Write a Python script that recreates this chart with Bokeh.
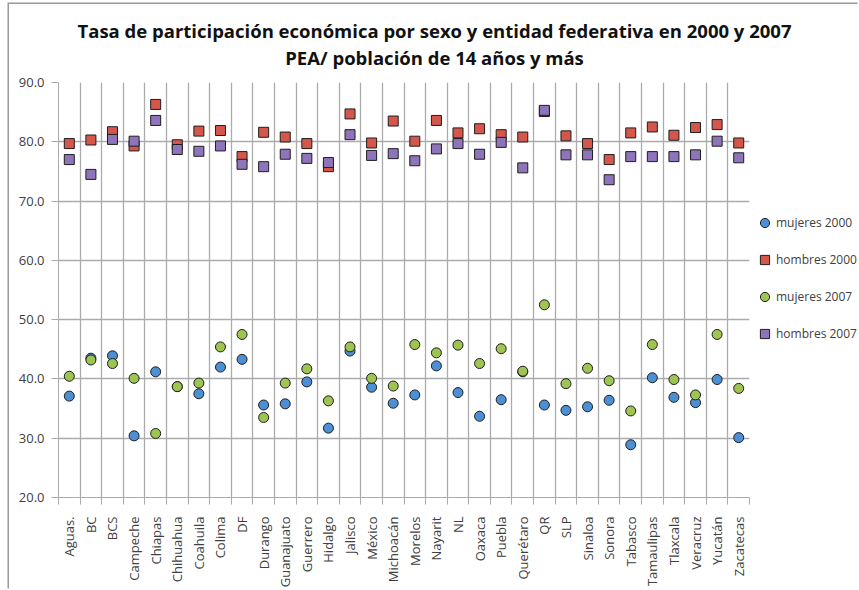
from bokeh.plotting import figure
from bokeh.layouts import row, column
from bokeh.models import (ColumnDataSource, FixedTicker, Legend, LegendItem, Label,
                          NumeralTickFormatter, Range1d)
from bokeh.embed import file_html
from bokeh.resources import INLINE

title_lines = ["Tasa de participación económica por sexo y entidad federativa en 2000 y 2007",
               "PEA/ población de 14 años y más"]

estados = ["Aguas.", "BC", "BCS", "Campeche", "Chiapas", "Chihuahua", "Coahuila", "Colima",
           "DF", "Durango", "Guanajuato", "Guerrero", "Hidalgo", "Jalisco", "México",
           "Michoacán", "Morelos", "Nayarit", "NL", "Oaxaca", "Puebla", "Querétaro", "QR",
           "SLP", "Sinaloa", "Sonora", "Tabasco", "Tamaulipas", "Tlaxcala", "Veracruz",
           "Yucatán", "Zacatecas"]

mujeres_2000 = [37.1, 43.5, 43.9, 30.4, 41.2, 38.7, 37.5, 42.0, 43.3, 35.6, 35.8, 39.5,
                31.7, 44.7, 38.6, 35.9, 37.3, 42.2, 37.7, 33.7, 36.5, 41.2, 35.6, 34.7,
                35.3, 36.4, 28.9, 40.2, 36.9, 36.0, 39.9, 30.1]
hombres_2000 = [79.7, 80.3, 81.7, 79.3, 86.3, 79.5, 81.8, 81.9, 77.5, 81.6, 80.8, 79.7,
                75.8, 84.7, 79.8, 83.5, 80.1, 83.6, 81.5, 82.2, 81.2, 80.8, 85.1, 81.0,
                79.7, 77.0, 81.5, 82.5, 81.1, 82.4, 82.9, 79.8]
mujeres_2007 = [40.45, 43.2, 42.6, 40.1, 30.8, 38.7, 39.3, 45.4, 47.5, 33.5, 39.3, 41.7,
                36.3, 45.4, 40.1, 38.8, 45.8, 44.4, 45.7, 42.6, 45.1, 41.3, 52.5, 39.2,
                41.8, 39.7, 34.6, 45.8, 39.9, 37.3, 47.5, 38.4]
hombres_2007 = [77.0, 74.5, 80.4, 80.1, 83.6, 78.7, 78.4, 79.3, 76.2, 75.8, 77.9, 77.2,
                76.5, 81.2, 77.7, 78.0, 76.8, 78.8, 79.7, 77.9, 79.9, 75.6, 85.3, 77.8,
                77.8, 73.6, 77.5, 77.5, 77.5, 77.8, 80.1, 77.3]

series_labels = ["mujeres 2000", "hombres 2000", "mujeres 2007", "hombres 2007"]
y_ticks = [20, 30, 40, 50, 60, 70, 80, 90]

n = len(estados)
xc = [i + 0.5 for i in range(n)]
src = ColumnDataSource(dict(x=xc, m00=mujeres_2000, h00=hombres_2000,
                            m07=mujeres_2007, h07=hombres_2007))
cols = ["m00", "h00", "m07", "h07"]

FONT = "Open Sans"
TXT = "#404040"
GRID = "#ababab"
COLORS = ["#4d8fd4", "#d5574c", "#9ec451", "#8e74ba"]
MARKERS = ["circle", "square", "circle", "square"]
OUTLINE = "#1e1e1e"
S = 10

# ---- title strip ----
pt = figure(width=850, height=70, output_backend="svg", toolbar_location=None,
            x_range=Range1d(0, 1), y_range=Range1d(0, 1),
            min_border_left=0, min_border_right=0, min_border_top=0, min_border_bottom=0,
            background_fill_color="white", border_fill_color="white")
pt.axis.visible = False
pt.grid.visible = False
pt.outline_line_color = None
pt.add_layout(Label(x=425, y=30.5, x_units="screen", y_units="screen",
                    text="\n".join(title_lines), text_align="center", text_baseline="middle",
                    text_line_height=1.07, text_font=FONT, text_font_size="18.5px",
                    text_font_style="bold", text_color="#111111"))

# ---- main plot ----
p = figure(width=742, height=516, output_backend="svg", toolbar_location=None,
           x_range=Range1d(0, n), y_range=Range1d(20, 90),
           min_border_left=49, min_border_right=2, min_border_top=8, min_border_bottom=92,
           background_fill_color="white", border_fill_color="white")
p.outline_line_color = None

p.yaxis.ticker = FixedTicker(ticks=y_ticks)
p.yaxis.formatter = NumeralTickFormatter(format="0.0")
p.yaxis.axis_line_color = GRID
p.yaxis.major_tick_line_color = GRID
p.yaxis.major_tick_out = 7
p.yaxis.major_tick_in = 0
p.yaxis.minor_tick_line_color = None
p.yaxis.major_label_standoff = 7
p.yaxis.major_label_text_font = FONT
p.yaxis.major_label_text_font_size = "13px"
p.yaxis.major_label_text_color = TXT

p.xaxis.ticker = FixedTicker(ticks=xc, minor_ticks=list(range(n + 1)))
p.xaxis.major_label_overrides = {x: s for x, s in zip(xc, estados)}
p.xaxis.major_label_orientation = 3.14159265 / 2
p.xaxis.major_tick_line_color = None
p.xaxis.minor_tick_line_color = GRID
p.xaxis.minor_tick_out = 7
p.xaxis.minor_tick_in = 0
p.xaxis.axis_line_color = GRID
p.xaxis.major_label_standoff = 12
p.xaxis.major_label_text_font = FONT
p.xaxis.major_label_text_font_size = "13px"
p.xaxis.major_label_text_color = TXT

p.ygrid.grid_line_color = GRID
p.ygrid.grid_line_width = 1.3
p.xgrid.ticker = FixedTicker(ticks=list(range(n + 1)))
p.xgrid.grid_line_color = GRID
p.xgrid.grid_line_width = 1.3

for col, c, m in zip(cols, COLORS, MARKERS):
    p.scatter("x", col, source=src, marker=m, size=S,
              fill_color=c, line_color=OUTLINE, line_width=1)

# ---- legend strip (same series; their points fall outside this strip's range) ----
p2 = figure(width=108, height=516, output_backend="svg", toolbar_location=None,
            x_range=Range1d(0, 1), y_range=Range1d(0, 1),
            min_border_left=0, min_border_right=0, min_border_top=0, min_border_bottom=0,
            background_fill_color="white", border_fill_color="white")
p2.axis.visible = False
p2.grid.visible = False
p2.outline_line_color = None
items = []
for lab, col, c, m in zip(series_labels, cols, COLORS, MARKERS):
    r = p2.scatter("x", col, source=src, marker=m, size=S, fill_color=c,
                   line_color=OUTLINE, line_width=1)
    items.append(LegendItem(label=lab, renderers=[r]))
legend = Legend(items=items, location=(2, 152), orientation="vertical",
                glyph_width=23, glyph_height=23, label_height=23, spacing=14,
                label_standoff=0, padding=0, margin=0,
                label_text_font=FONT, label_text_font_size="12px", label_text_color=TXT,
                border_line_color=None, background_fill_alpha=0)
p2.add_layout(legend, "center")

layout = column(pt, row(p, p2))
layout.styles = {"margin-left": "9px", "margin-top": "4px",
                 "box-shadow": "-1.5px -1.5px 0px 0px #9a9a9a"}

open("out.html", "w").write(file_html(layout, INLINE))
